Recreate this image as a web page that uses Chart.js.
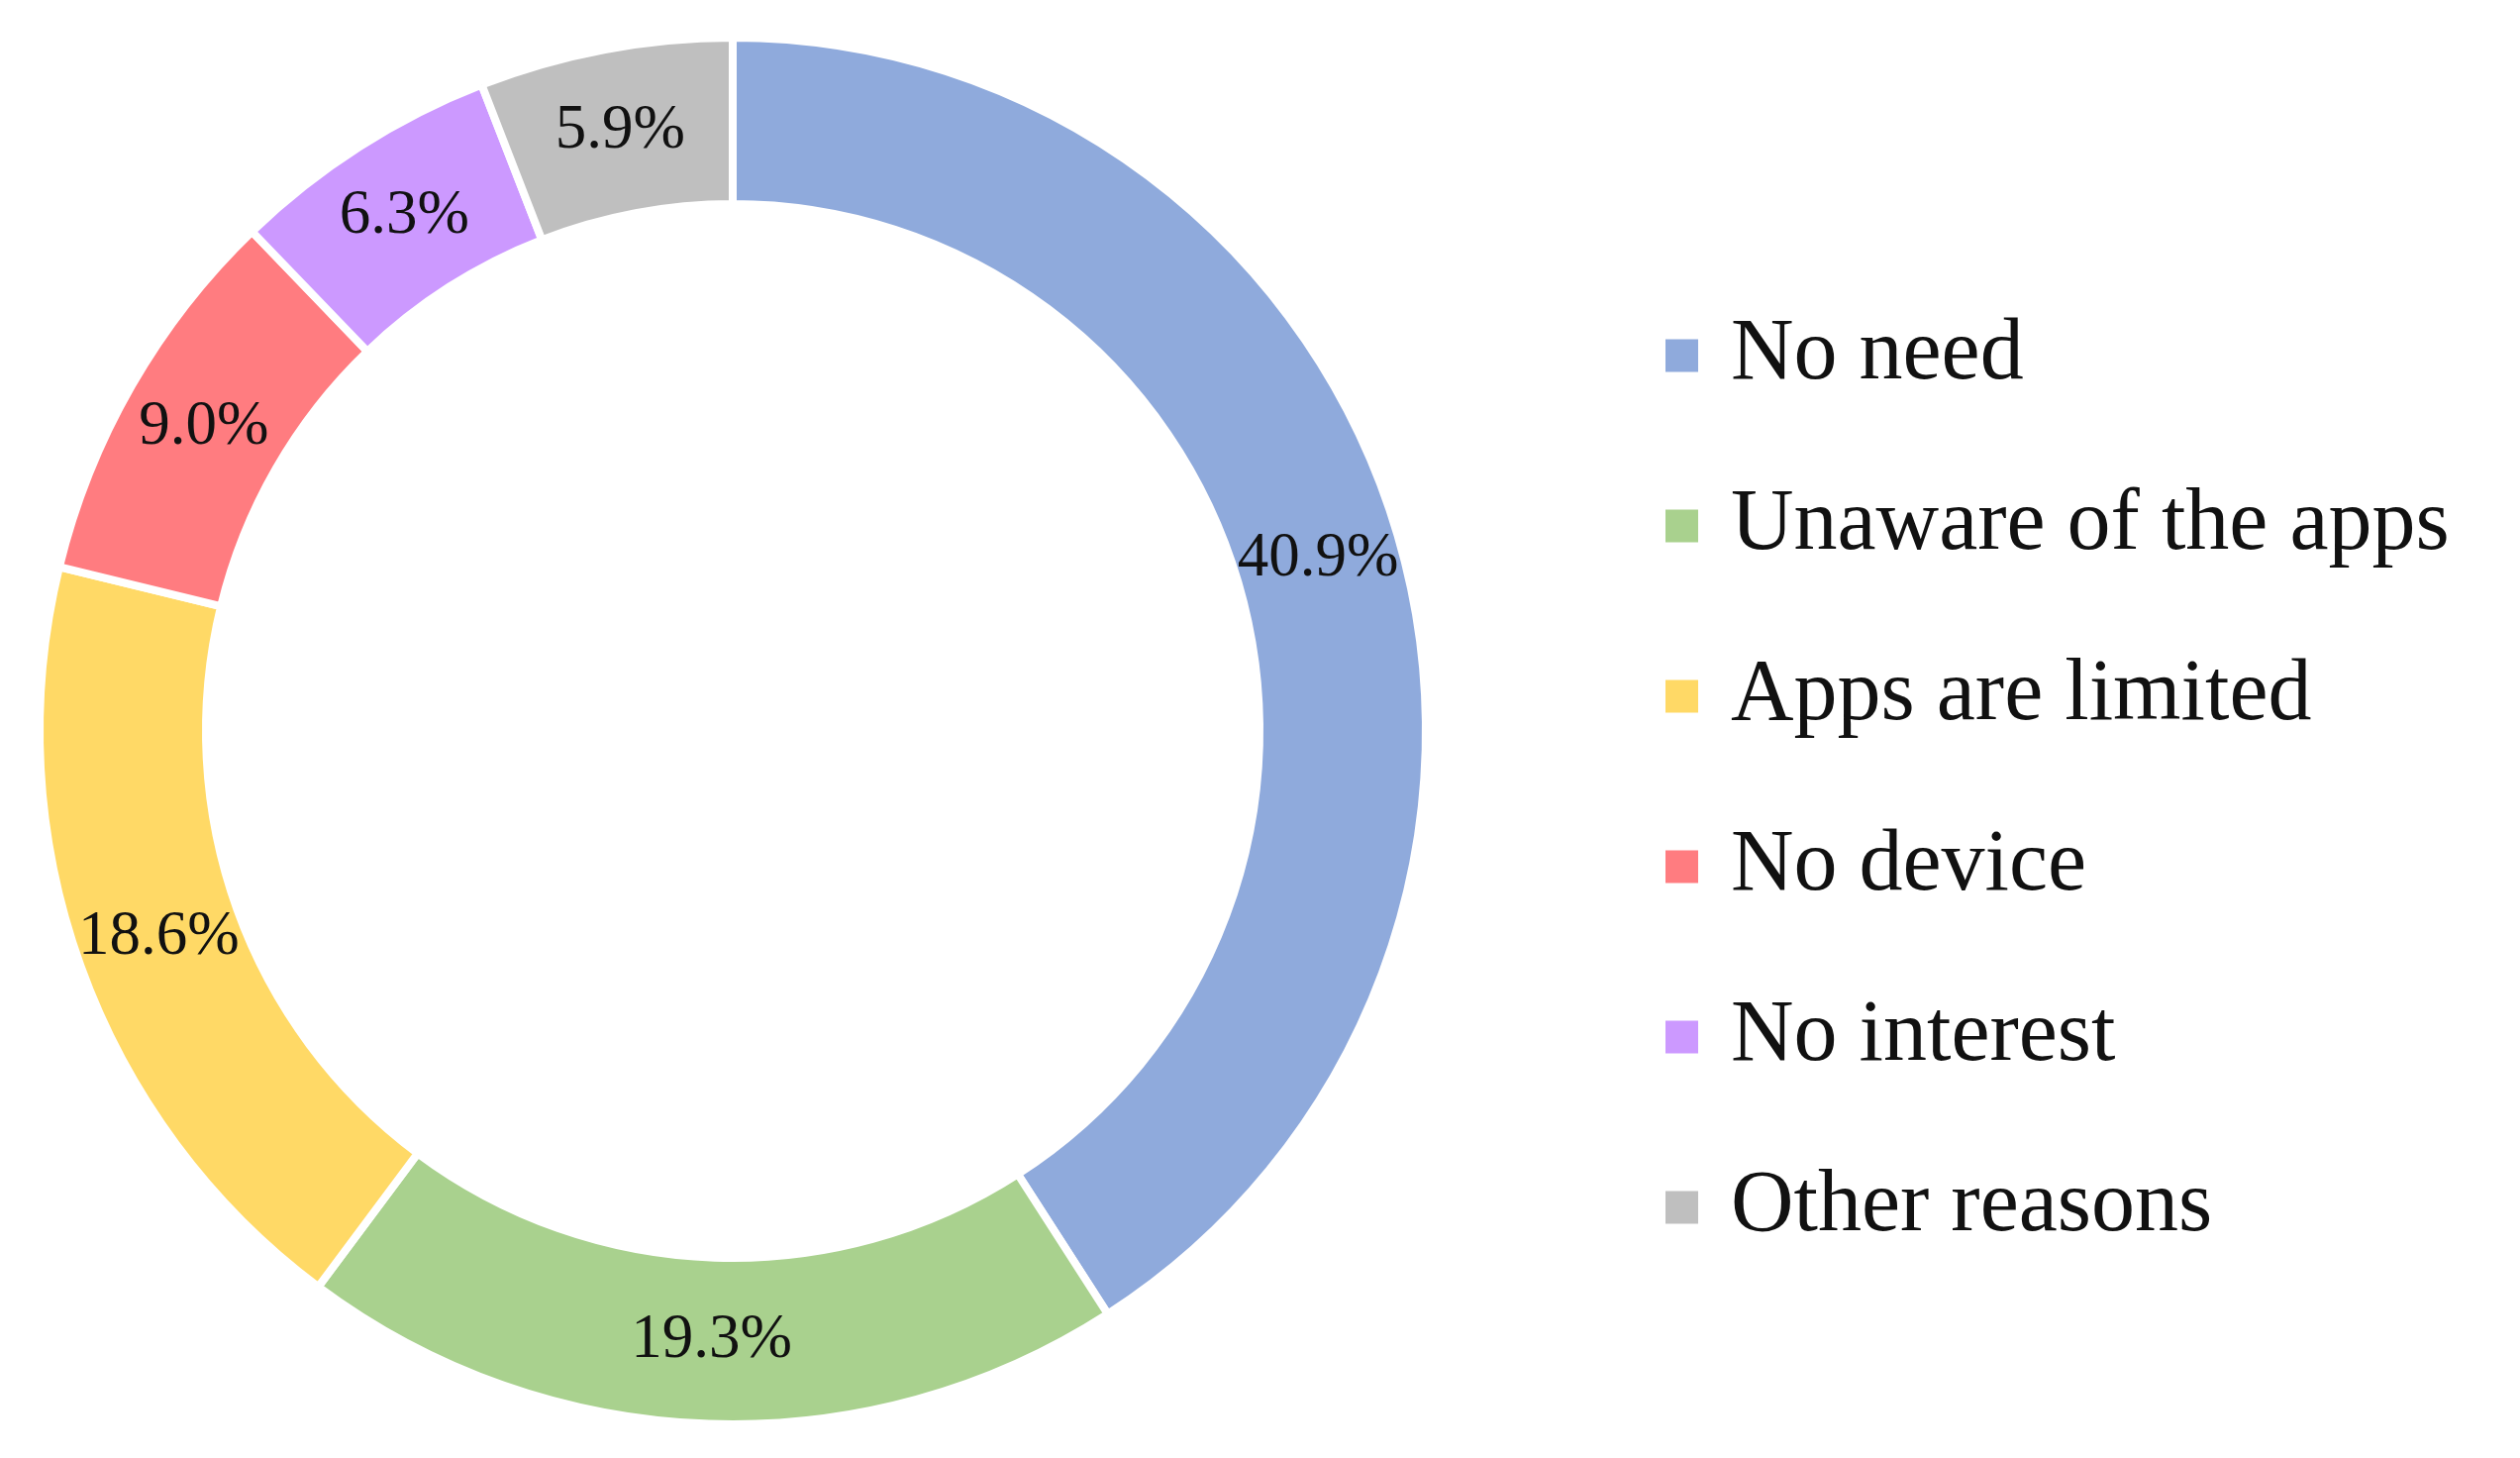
<!DOCTYPE html>
<html>
<head>
<meta charset="utf-8">
<script src="https://cdn.jsdelivr.net/npm/chart.js@4"></script>
<style>
  html, body { margin: 0; padding: 0; background: #fff; }
  #wrap { width: 2545px; height: 1472px; }
</style>
</head>
<body>
<div id="wrap"><canvas id="donut"></canvas></div>
<script>
// Reasons for not using the apps
const categories = ["No need", "Unaware of the apps", "Apps are limited", "No device", "No interest", "Other reasons"];
const shares = [40.9, 19.3, 18.6, 9.0, 6.3, 5.9];
const colors = ["#8FAADC", "#A9D18E", "#FFD966", "#FF7C80", "#CC99FF", "#BFBFBF"];

const FONT = "'Liberation Serif', 'DejaVu Serif', serif";

// Percent labels in the middle of each ring segment
const sliceLabels = {
  id: "sliceLabels",
  afterDatasetsDraw(chart) {
    const { ctx } = chart;
    const meta = chart.getDatasetMeta(0);
    ctx.save();
    ctx.font = "63px " + FONT;
    ctx.fillStyle = "#111";
    ctx.textAlign = "center";
    ctx.textBaseline = "middle";
    meta.data.forEach((arc, i) => {
      const p = arc.tooltipPosition();
      ctx.fillText(shares[i].toFixed(1) + "%", p.x, p.y);
    });
    ctx.restore();
  },
};

// Legend on the right, drawn by hand for exact spacing
const sideLegend = {
  id: "sideLegend",
  afterDraw(chart) {
    const { ctx } = chart;
    const x0 = 1682, y0 = 359, step = 172, box = 33;
    ctx.save();
    ctx.font = "88px " + FONT;
    ctx.textBaseline = "middle";
    chart.data.labels.forEach((label, i) => {
      const y = y0 + i * step;
      ctx.fillStyle = colors[i];
      ctx.fillRect(x0, y - box / 2, box, box);
      ctx.fillStyle = "#111";
      ctx.fillText(label, x0 + 66, y);
    });
    ctx.restore();
  },
};

new Chart(document.getElementById("donut"), {
  type: "doughnut",
  data: {
    labels: categories,
    datasets: [{
      data: shares,
      backgroundColor: colors,
      borderColor: "#fff",
      borderWidth: 8,
    }],
  },
  options: {
    responsive: true,
    maintainAspectRatio: false,
    animation: false,
    cutout: "76%",
    layout: { padding: { left: 17, right: 1082, top: 34, bottom: 30 } },
    plugins: {
      legend: { display: false },
      tooltip: { enabled: false },
    },
  },
  plugins: [sliceLabels, sideLegend],
});
</script>
</body>
</html>
